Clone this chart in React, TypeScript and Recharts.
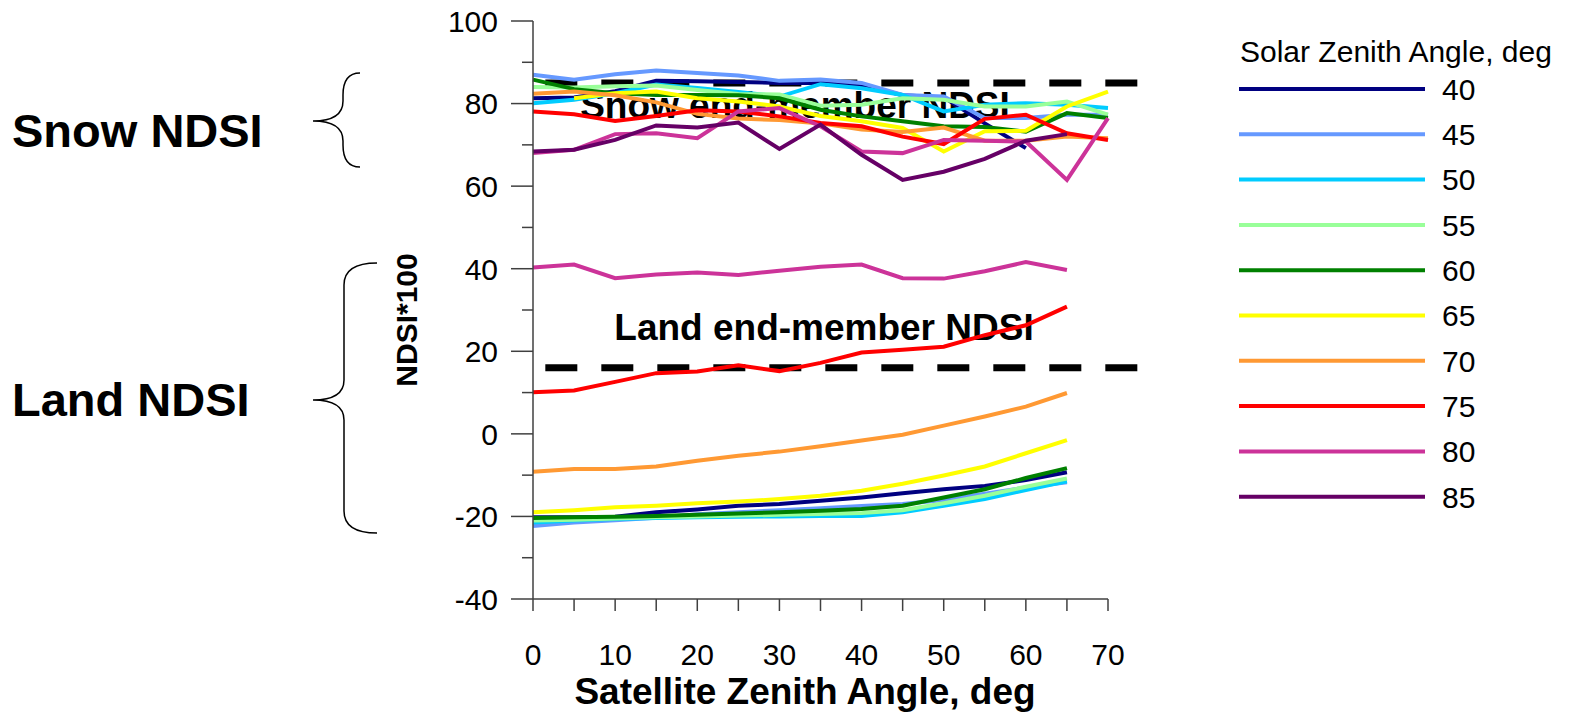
import React from "react";
import { LineChart, Line, XAxis, YAxis, ReferenceLine, Legend } from "recharts";

const FONT = "'Liberation Sans', Arial, sans-serif";

// satellite zenith angle (x axis), deg
const satZenith = [0, 5, 10, 15, 20, 25, 30, 35, 40, 45, 50, 55, 60, 65, 70];
const xTicks = [0, 5, 10, 15, 20, 25, 30, 35, 40, 45, 50, 55, 60, 65, 70];
const yTicks = [-40, -30, -20, -10, 0, 10, 20, 30, 40, 50, 60, 70, 80, 90, 100];

// end-member NDSI*100 levels and the span of the dashed lines
const SNOW_END = 85;
const LAND_END = 16;
const dashSpan = [1.5, 74.4];

// snow NDSI*100 for each solar zenith angle
const snow40 = [81.3, 81.5, 83.0, 85.5, 85.4, 85.2, 85.0, 85.0, 84.5, 82.0, 81.5, 75.2, 69.2, null, null];
const snow45 = [87.0, 85.8, 87.1, 88.0, 87.4, 86.8, 85.5, 85.8, 85.0, 82.1, 81.7, 76.5, 76.5, 77.3, 77.3];
const snow50 = [80.1, 80.9, 82.5, 84.6, 83.8, 82.8, 81.7, 84.7, 83.7, 82.1, 78.1, 79.7, 80.1, 79.7, 78.9];
const snow55 = [84.0, 83.9, 84.2, 84.4, 83.3, 82.3, 82.2, 79.5, 79.7, 81.3, 80.9, 79.3, 79.3, 80.5, 77.3];
const snow60 = [85.8, 83.5, 82.5, 82.1, 82.1, 82.0, 81.3, 78.5, 76.9, 75.7, 74.5, 74.3, 73.2, 77.7, 76.5];
const snow65 = [null, 81.3, 82.5, 82.9, 81.3, 80.5, 79.3, 77.0, 75.7, 74.1, 68.4, 73.3, 73.4, 79.3, 82.9];
const snow70 = [82.4, 82.9, 82.0, 80.3, 77.5, 76.4, 76.0, 75.2, 73.7, 73.1, 74.2, 71.0, 71.0, 72.0, 71.6];
const snow75 = [78.1, 77.4, 75.8, 77.0, 78.4, 78.1, 76.9, 75.3, 74.5, 72.0, 70.2, 76.3, 77.3, 72.8, 71.2];
const snow80 = [68.0, 68.8, 72.6, 72.8, 71.6, 78.1, 78.9, 74.5, 68.4, 68.0, 71.2, 71.0, 70.8, 61.5, 76.5];
const snow85 = [68.4, 68.8, 71.2, 74.7, 74.2, 75.4, 69.0, 74.9, 67.6, 61.5, 63.5, 66.6, 71.0, 72.6, null];

// land NDSI*100 for each solar zenith angle
const land40 = [-20.2, -20.2, -20.1, -19.0, -18.3, -17.4, -17.0, -16.2, -15.4, -14.4, -13.4, -12.6, -11.2, -9.3, null];
const land45 = [-22.3, -21.5, -20.9, -20.3, -19.5, -19.0, -18.5, -18.0, -17.5, -17.0, -16.0, -14.5, -13.0, -11.7, null];
const land50 = [-21.5, -21.0, -20.6, -20.4, -20.2, -20.1, -20.0, -19.9, -19.9, -19.0, -17.4, -15.8, -13.6, -11.5, null];
const land55 = [-21.0, -20.8, -20.5, -20.2, -20.0, -19.8, -19.6, -19.4, -19.2, -18.5, -16.8, -15.0, -12.8, -10.8, null];
const land60 = [-20.4, -20.2, -20.1, -19.9, -19.6, -19.3, -19.0, -18.6, -18.2, -17.4, -15.4, -13.4, -10.7, -8.3, null];
const land65 = [-19.0, -18.5, -17.8, -17.4, -16.8, -16.4, -15.8, -15.0, -13.8, -12.1, -10.1, -7.9, -4.7, -1.5, null];
const land70 = [-9.2, -8.5, -8.5, -7.9, -6.5, -5.3, -4.3, -3.0, -1.6, -0.2, 2.0, 4.2, 6.6, 9.9, null];
const land75 = [10.1, 10.5, 12.6, 14.7, 15.1, 16.6, 15.2, 17.2, 19.7, 20.4, 21.1, 23.9, 26.3, 30.8, null];
const land80 = [40.3, 41.0, 37.7, 38.6, 39.1, 38.5, 39.5, 40.5, 41.0, 37.7, 37.6, 39.4, 41.6, 39.7, null];

const series = [
  { sza: 40, color: "#000080", snow: snow40, land: land40 },
  { sza: 45, color: "#6699FF", snow: snow45, land: land45 },
  { sza: 50, color: "#00CCFF", snow: snow50, land: land50 },
  { sza: 55, color: "#99FF99", snow: snow55, land: land55 },
  { sza: 60, color: "#008000", snow: snow60, land: land60 },
  { sza: 65, color: "#FFFF00", snow: snow65, land: land65 },
  { sza: 70, color: "#FF9933", snow: snow70, land: land70 },
  { sza: 75, color: "#FF0000", snow: snow75, land: land75 },
  { sza: 80, color: "#CC3399", snow: snow80, land: land80 },
  { sza: 85, color: "#660066", snow: snow85, land: null },
];

const chartData = satZenith.map((x, i) => {
  const row: any = { x };
  series.forEach((s) => {
    row[`snow${s.sza}`] = s.snow[i];
    if (s.land) row[`land${s.sza}`] = s.land[i];
  });
  return row;
});

const AXIS = "#404040";

// long ticks with labels every 20, short ones in between
const YTick = (props: any) => {
  const { x, y, payload } = props;
  const major = payload.value % 20 === 0;
  return (
    <g>
      <line x1={x - (major ? 22 : 11)} x2={x} y1={y} y2={y} stroke={AXIS} strokeWidth={1.5} />
      {major && (
        <text x={x - 35} y={y} dy="0.36em" textAnchor="end" fontSize={30} fontFamily={FONT} fill="#000">
          {payload.value}
        </text>
      )}
    </g>
  );
};

const XTick = (props: any) => {
  const { x, y, payload } = props;
  const major = payload.value % 10 === 0;
  return (
    <g>
      <line x1={x} x2={x} y1={y} y2={y + 12} stroke={AXIS} strokeWidth={1.5} />
      {major && (
        <text x={x} y={y + 66} textAnchor="middle" fontSize={30} fontFamily={FONT} fill="#000">
          {payload.value}
        </text>
      )}
    </g>
  );
};

const LegendBox = () => (
  <svg width={361} height={500} style={{ display: "block" }}>
    <text x={10} y={32} fontSize={30} fontFamily={FONT} fill="#000">
      Solar Zenith Angle, deg
    </text>
    {series.map((s, i) => {
      const y = 59 + i * 45.3;
      return (
        <g key={s.sza}>
          <line x1={9} x2={195} y1={y} y2={y} stroke={s.color} strokeWidth={4} />
          <text x={212} y={y} dy="0.36em" fontSize={30} fontFamily={FONT} fill="#000">
            {s.sza}
          </text>
        </g>
      );
    })}
  </svg>
);

const bracePath = (endX: number, vx: number, tipX: number, top: number, tip: number, bottom: number) =>
  `M${endX},${top} Q${vx},${top} ${vx},${top + 22} L${vx},${tip - 20} Q${vx},${tip} ${tipX},${tip} ` +
  `Q${vx},${tip} ${vx},${tip + 20} L${vx},${bottom - 22} Q${vx},${bottom} ${endX},${bottom}`;

export default function App() {
  return (
    <div style={{ position: "absolute", left: 0, top: 0, width: 1591, height: 713, background: "#fff" }}>
      {/* annotations behind the plot */}
      <svg width={1591} height={713} style={{ position: "absolute", left: 0, top: 0 }}>
        <g fontFamily={FONT} fontWeight="bold" fill="#000">
          <text x={12} y={147} fontSize={47}>Snow NDSI</text>
          <text x={12} y={416} fontSize={47}>Land NDSI</text>
          <text x={795} y={118} fontSize={37} textAnchor="middle">Snow end-member NDSI</text>
          <text x={824} y={340} fontSize={37} textAnchor="middle">Land end-member NDSI</text>
          <text x={805} y={704} fontSize={37} textAnchor="middle">Satellite Zenith Angle, deg</text>
          <text transform="translate(406,320) rotate(-90)" dy="0.36em" fontSize={30} textAnchor="middle">
            NDSI*100
          </text>
        </g>
        <path d={bracePath(360, 343, 313, 73, 121, 167)} fill="none" stroke="#000" strokeWidth={1.5} />
        <path d={bracePath(377, 344, 313, 263, 400, 533)} fill="none" stroke="#000" strokeWidth={1.5} />
      </svg>
      <div style={{ position: "absolute", left: 0, top: 0 }}>
        <LineChart width={1591} height={713} data={chartData} margin={{ top: 21, right: 483, left: 473, bottom: 0 }}>
          <XAxis
            dataKey="x"
            type="number"
            domain={[0, 70]}
            ticks={xTicks}
            interval={0}
            height={114}
            tickSize={0}
            tickMargin={0}
            tickLine={false}
            axisLine={{ stroke: AXIS, strokeWidth: 1.5 }}
            tick={<XTick />}
          />
          <YAxis
            type="number"
            domain={[-40, 100]}
            ticks={yTicks}
            interval={0}
            width={60}
            tickSize={0}
            tickMargin={0}
            tickLine={false}
            axisLine={{ stroke: AXIS, strokeWidth: 1.5 }}
            tick={<YTick />}
          />
          <ReferenceLine
            segment={[{ x: dashSpan[0], y: SNOW_END }, { x: dashSpan[1], y: SNOW_END }]}
            stroke="#000"
            strokeWidth={7}
            strokeDasharray="32 24"
            ifOverflow="visible"
          />
          <ReferenceLine
            segment={[{ x: dashSpan[0], y: LAND_END }, { x: dashSpan[1], y: LAND_END }]}
            stroke="#000"
            strokeWidth={7}
            strokeDasharray="32 24"
            ifOverflow="visible"
          />
          {series.map((s) => (
            <Line
              key={`snow${s.sza}`}
              dataKey={`snow${s.sza}`}
              type="linear"
              stroke={s.color}
              strokeWidth={4}
              dot={false}
              activeDot={false}
              legendType="none"
              isAnimationActive={false}
            />
          ))}
          {series
            .filter((s) => s.land)
            .map((s) => (
              <Line
                key={`land${s.sza}`}
                dataKey={`land${s.sza}`}
                type="linear"
                stroke={s.color}
                strokeWidth={4}
                dot={false}
                activeDot={false}
                legendType="none"
                isAnimationActive={false}
              />
            ))}
          <Legend
            layout="horizontal"
            verticalAlign="middle"
            align="center"
            content={() => <LegendBox />}
            wrapperStyle={{ left: 1230, top: 30, width: 361, height: 500 }}
          />
        </LineChart>
      </div>
    </div>
  );
}
